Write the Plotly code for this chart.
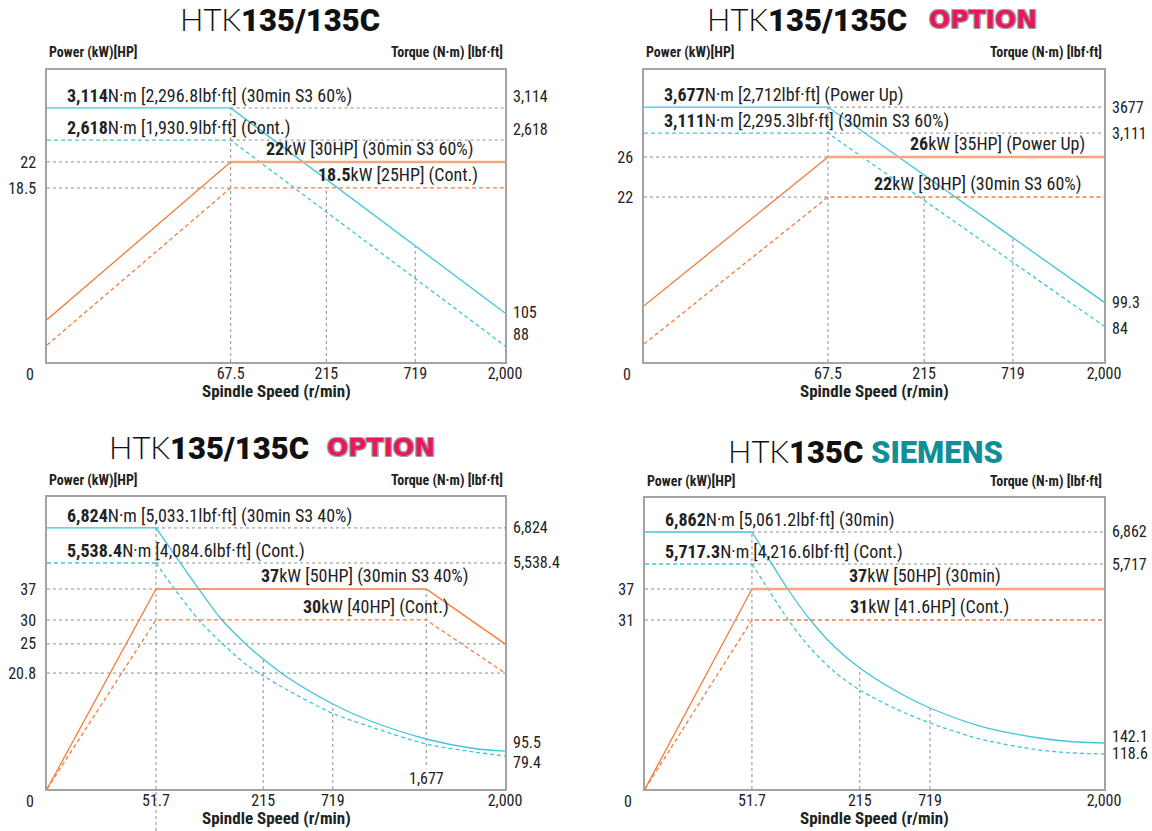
import numpy as np
import plotly.graph_objects as go

# ============================ DATA ============================
# Panel 1 : HTK135/135C
p1_speed_ticks = [0, 67.5, 215, 719, 2000]
p1_speed_labels = ["0", "67.5", "215", "719", "2,000"]
p1_power_ticks = [0, 18.5, 22]
p1_power_labels = ["0", "18.5", "22"]
p1_torque_ticks = [88, 105, 2618, 3114]
p1_torque_labels = ["88", "105", "2,618", "3,114"]
p1_torque_s3_speed = [0, 67.5, 2000]
p1_torque_s3 = [3114, 3114, 105]
p1_torque_cont_speed = [0, 67.5, 2000]
p1_torque_cont = [2618, 2618, 88]
p1_power_s3_speed = [0, 67.5, 2000]
p1_power_s3 = [4.5, 22, 22]
p1_power_cont_speed = [0, 67.5, 2000]
p1_power_cont = [1.8, 18.5, 18.5]
p1_torque_notes = ["<b>3,114</b>N·m [2,296.8lbf·ft] (30min S3 60%)",
                   "<b>2,618</b>N·m [1,930.9lbf·ft] (Cont.)"]
p1_power_notes = ["<b>22</b>kW [30HP] (30min S3 60%)",
                  "<b>18.5</b>kW [25HP] (Cont.)"]

# Panel 2 : HTK135/135C OPTION
p2_speed_ticks = [0, 67.5, 215, 719, 2000]
p2_speed_labels = ["0", "67.5", "215", "719", "2,000"]
p2_power_ticks = [0, 22, 26]
p2_power_labels = ["0", "22", "26"]
p2_torque_ticks = [84, 99.3, 3111, 3677]
p2_torque_labels = ["84", "99.3", "3,111", "3677"]
p2_torque_s3_speed = [0, 67.5, 2000]
p2_torque_s3 = [3677, 3677, 99.3]
p2_torque_cont_speed = [0, 67.5, 2000]
p2_torque_cont = [3111, 3111, 84]
p2_power_s3_speed = [0, 67.5, 2000]
p2_power_s3 = [7.5, 26, 26]
p2_power_cont_speed = [0, 67.5, 2000]
p2_power_cont = [2.4, 22, 22]
p2_torque_notes = ["<b>3,677</b>N·m [2,712lbf·ft] (Power Up)",
                   "<b>3,111</b>N·m [2,295.3lbf·ft] (30min S3 60%)"]
p2_power_notes = ["<b>26</b>kW [35HP] (Power Up)",
                  "<b>22</b>kW [30HP] (30min S3 60%)"]

# Panel 3 : HTK135/135C OPTION (high torque)
p3_speed_ticks = [0, 51.7, 215, 719, 1677, 2000]
p3_speed_labels = ["0", "51.7", "215", "719", "1,677", "2,000"]
p3_power_ticks = [0, 20.8, 25, 30, 37]
p3_power_labels = ["0", "20.8", "25", "30", "37"]
p3_torque_ticks = [79.4, 95.5, 5538.4, 6824]
p3_torque_labels = ["79.4", "95.5", "5,538.4", "6,824"]
p3_torque_s3_speed = [0, 51.7, 81, 119, 151, 190, 215, 387, 719, 1080, 1677, 1873, 2000]
p3_torque_s3 = [6824, 6824, 5813, 4728, 3917, 3165, 2760, 2239, 1457, 994, 444, 169, 95.5]
p3_torque_cont_speed = [0, 51.7, 81, 119, 151, 190, 215, 387, 719, 1080, 1677, 1873, 2000]
p3_torque_cont = [5538.4, 5538.4, 4757, 3845, 3237, 2586, 2276, 1868, 1185, 821, 299, 92.4, 79.4]
p3_power_s3_speed = [0, 51.7, 1677, 2000]
p3_power_s3 = [0, 37, 37, 25]
p3_power_cont_speed = [0, 51.7, 1677, 2000]
p3_power_cont = [0, 30, 30, 20.8]
p3_torque_notes = ["<b>6,824</b>N·m [5,033.1lbf·ft] (30min S3 40%)",
                   "<b>5,538.4</b>N·m [4,084.6lbf·ft] (Cont.)"]
p3_power_notes = ["<b>37</b>kW [50HP] (30min S3 40%)",
                  "<b>30</b>kW [40HP] (Cont.)"]

# Panel 4 : HTK135C SIEMENS
p4_speed_ticks = [0, 51.7, 215, 719, 2000]
p4_speed_labels = ["0", "51.7", "215", "719", "2,000"]
p4_power_ticks = [0, 31, 37]
p4_power_labels = ["0", "31", "37"]
p4_torque_ticks = [118.6, 142.1, 5717.3, 6862]
p4_torque_labels = ["118.6", "142.1", "5,717", "6,862"]
p4_torque_s3_speed = [0, 51.7, 79, 109, 140, 177, 215, 475, 719, 1087, 1499, 1750, 2000]
p4_torque_s3 = [6862, 6862, 5825, 4845, 3973, 3132, 2478, 1762, 1232, 671, 313, 188, 142.1]
p4_torque_cont_speed = [0, 51.7, 79, 109, 140, 177, 215, 475, 719, 1087, 1499, 1750, 2000]
p4_torque_cont = [5717.3, 5717.3, 4845, 3911, 3101, 2354, 1793, 1201, 765, 266, 128.2, 121.1, 118.6]
p4_power_s3_speed = [0, 51.7, 2000]
p4_power_s3 = [0, 37, 37]
p4_power_cont_speed = [0, 51.7, 2000]
p4_power_cont = [0, 31, 31]
p4_torque_notes = ["<b>6,862</b>N·m [5,061.2lbf·ft] (30min)",
                   "<b>5,717.3</b>N·m [4,216.6lbf·ft] (Cont.)"]
p4_power_notes = ["<b>37</b>kW [50HP] (30min)",
                  "<b>31</b>kW [41.6HP] (Cont.)"]

# ============================ LAYOUT / SCALES ============================
W, H = 1152, 831
CYAN = "#3fc5da"
ORANGE = "#f47b3b"
SALMON = "#f6a57c"
GUIDE = "#8e8e8e"
BOX = "#a3a3a3"
TXT = "#222222"
FONT = "Roboto Condensed, Liberation Sans Narrow, DejaVu Sans Condensed, Roboto, sans-serif"
LIGHT = "font-family:Lato, Roboto, sans-serif;font-weight:300"
HEAVY = "font-family:Roboto, Arial, sans-serif;font-weight:900"

title_main = f'<span style="{LIGHT}">HTK</span><span style="{HEAVY}">135/135C</span>'
title_siemens = (f'<span style="{LIGHT}">HTK</span><span style="{HEAVY}">135C</span> '
                 f'<span style="{HEAVY};color:#108f96">SIEMENS</span>')
OUTLINE = ("1px 1px 0 #a0a0a0, -1px -1px 0 #a0a0a0, 1px -1px 0 #a0a0a0, -1px 1px 0 #a0a0a0, "
           "0 1px 0 #a0a0a0, 0 -1px 0 #a0a0a0, 1px 0 0 #a0a0a0, -1px 0 0 #a0a0a0")

panels = [
    dict(box=(47, 70, 505, 362), speed=p1_speed_ticks, speed_lab=p1_speed_labels,
         speed_pos=[0, 0.401, 0.610, 0.804, 1.0],
         power=p1_power_ticks, power_lab=p1_power_labels, power_pos=[0, 0.596, 0.685],
         torque=p1_torque_ticks, torque_lab=p1_torque_labels,
         torque_pos=[0.055, 0.168, 0.760, 0.870], torque_lab_shift=[11, 0, 11, 11],
         ts_x=p1_torque_s3_speed, ts=p1_torque_s3, tc_x=p1_torque_cont_speed, tc=p1_torque_cont,
         ps_x=p1_power_s3_speed, ps=p1_power_s3, pc_x=p1_power_cont_speed, pc=p1_power_cont,
         tnotes=p1_torque_notes, pnotes=p1_power_notes, pnote_x=[0.934, 0.945],
         curved=False, thick_flat=True, v_to_power=[215], inside=[], end_guides=False,
         extend_corner=False, title=title_main, option=False, title_shift=4, title_y=50),
    dict(box=(644, 70, 1104, 362), speed=p2_speed_ticks, speed_lab=p2_speed_labels,
         speed_pos=[0, 0.400, 0.609, 0.802, 1.0],
         power=p2_power_ticks, power_lab=p2_power_labels, power_pos=[0, 0.565, 0.702],
         torque=p2_torque_ticks, torque_lab=p2_torque_labels,
         torque_pos=[0.123, 0.205, 0.784, 0.873], torque_lab_shift=[-2, 0, 0, 0],
         ts_x=p2_torque_s3_speed, ts=p2_torque_s3, tc_x=p2_torque_cont_speed, tc=p2_torque_cont,
         ps_x=p2_power_s3_speed, ps=p2_power_s3, pc_x=p2_power_cont_speed, pc=p2_power_cont,
         tnotes=p2_torque_notes, pnotes=p2_power_notes, pnote_x=[0.963, 0.954],
         curved=False, thick_flat=True, v_to_power=[215], inside=[], end_guides=False,
         extend_corner=False, title=title_main, option=True, title_shift=35, title_y=50,
         opt_gap=18),
    dict(box=(47, 497, 505, 789), speed=p3_speed_ticks, speed_lab=p3_speed_labels,
         speed_pos=[0, 0.238, 0.472, 0.624, 0.828, 1.0],
         power=p3_power_ticks, power_lab=p3_power_labels,
         power_pos=[0, 0.397, 0.497, 0.579, 0.685],
         torque=p3_torque_ticks, torque_lab=p3_torque_labels,
         torque_pos=[0.113, 0.130, 0.774, 0.894], torque_lab_shift=[-6, 9, 0, 0],
         ts_x=p3_torque_s3_speed, ts=p3_torque_s3, tc_x=p3_torque_cont_speed, tc=p3_torque_cont,
         ps_x=p3_power_s3_speed, ps=p3_power_s3, pc_x=p3_power_cont_speed, pc=p3_power_cont,
         tnotes=p3_torque_notes, pnotes=p3_power_notes, pnote_x=[0.924, 0.882],
         curved=True, thick_flat=False, v_to_power=[], inside=[1677], end_guides=True,
         extend_corner=True, title=title_main, option=True, title_shift=35, title_y=50,
         opt_gap=14),
    dict(box=(645, 498, 1104, 789), speed=p4_speed_ticks, speed_lab=p4_speed_labels,
         speed_pos=[0, 0.233, 0.468, 0.621, 1.0],
         power=p4_power_ticks, power_lab=p4_power_labels, power_pos=[0, 0.5808, 0.6873],
         torque=p4_torque_ticks, torque_lab=p4_torque_labels,
         torque_pos=[0.1203, 0.1581, 0.7732, 0.8832], torque_lab_shift=[0, 6, 0, 0],
         ts_x=p4_torque_s3_speed, ts=p4_torque_s3, tc_x=p4_torque_cont_speed, tc=p4_torque_cont,
         ps_x=p4_power_s3_speed, ps=p4_power_s3, pc_x=p4_power_cont_speed, pc=p4_power_cont,
         tnotes=p4_torque_notes, pnotes=p4_power_notes, pnote_x=[0.780, 0.797],
         curved=True, thick_flat=True, v_to_power=[], inside=[], end_guides=False,
         extend_corner=False, title=title_siemens, option=False, title_shift=-9, title_y=47),
]

fig = go.Figure()
annotations, shapes = [], []

for i, P in enumerate(panels, start=1):
    sfx = "" if i == 1 else str(i)
    xr, yr = "x" + sfx, "y" + sfx
    bx0, by0, bx1, by1 = P["box"]

    SX = lambda v, P=P: np.interp(np.asarray(v, float), P["speed"], P["speed_pos"])
    SP = lambda v, P=P: np.interp(np.asarray(v, float), P["power"], P["power_pos"])
    ST = lambda v, P=P: np.interp(np.asarray(v, float), P["torque"], P["torque_pos"])

    def line(x, y, color, width, dash="solid", shape="linear", xr=xr, yr=yr):
        fig.add_trace(go.Scatter(x=list(np.atleast_1d(x)), y=list(np.atleast_1d(y)), mode="lines",
                                 line=dict(color=color, width=width, dash=dash, shape=shape,
                                           smoothing=0.8),
                                 xaxis=xr, yaxis=yr, hoverinfo="skip", showlegend=False))

    # ---------- guide lines (dotted) ----------
    corner = P["ts_x"][1]
    xc = float(SX(corner))
    for T in (P["ts"][0], P["tc"][0]):
        line([xc, 1], [float(ST(T))] * 2, GUIDE, 1, "dot")
    for Pw in (P["ps"][1], P["pc"][1]):
        line([0, xc], [float(SP(Pw))] * 2, GUIDE, 1, "dot")
    if P["end_guides"]:
        for Pw in (P["ps"][-1], P["pc"][-1]):
            line([0, 1], [float(SP(Pw))] * 2, GUIDE, 1, "dot")
    line([xc, xc], [0, float(ST(P["ts"][0]))], GUIDE, 1, "dot")
    ts_dx, ts_dy = SX(P["ts_x"]), ST(P["ts"])
    for s in P["speed"][1:-1]:
        if s == corner:
            continue
        if s in P["inside"]:
            top = float(SP(np.interp(s, P["ps_x"], P["ps"])))
        elif s in P["v_to_power"]:
            top = float(SP(np.interp(s, P["pc_x"], P["pc"])))
        else:
            top = float(np.interp(SX(s), ts_dx, ts_dy))
        line([float(SX(s))] * 2, [0, top], GUIDE, 1, "dot")
    if P["extend_corner"]:
        shapes.append(dict(type="line", xref=xr, yref="paper", x0=xc, x1=xc,
                           y0=0, y1=1 - by1 / H, line=dict(color=GUIDE, width=1, dash="dot")))

    # ---------- torque curves ----------
    for sx_, tv, dash in ((P["tc_x"], P["tc"], "4px,3px"), (P["ts_x"], P["ts"], "solid")):
        dx, dy = SX(sx_), ST(tv)
        if P["curved"]:
            line(dx[:2], dy[:2], CYAN, 1.3, dash)
            line(dx[1:], dy[1:], CYAN, 1.3, dash, "spline")
        else:
            line(dx, dy, CYAN, 1.3, dash)

    # ---------- power curves ----------
    line(SX(P["pc_x"]), SP(P["pc"]), ORANGE, 1.3, "4px,3px")
    dx, dy = SX(P["ps_x"]), SP(P["ps"])
    line(dx[:2], dy[:2], ORANGE, 1.3)
    if P["thick_flat"]:
        line(dx[1:], dy[1:], SALMON, 2.6)
    else:
        line(dx[1:], dy[1:], ORANGE, 1.5)

    # ---------- axes ----------
    xticks = [s for s in P["speed"][1:] if s not in P["inside"]]
    xlabs = [P["speed_lab"][P["speed"].index(s)] for s in xticks]
    fig.update_layout(**{
        "xaxis" + sfx: dict(domain=[bx0 / W, bx1 / W], range=[0, 1], anchor=yr,
                            showline=True, mirror=True, linecolor=BOX, linewidth=1.5,
                            showgrid=False, zeroline=False, ticks="",
                            tickvals=list(SX(xticks)), ticktext=xlabs,
                            tickfont=dict(family=FONT, size=16, color=TXT),
                            ticklabelstandoff=-4, fixedrange=True, automargin=False),
        "yaxis" + sfx: dict(domain=[1 - by1 / H, 1 - by0 / H], range=[0, 1], anchor=xr,
                            showline=True, mirror=True, linecolor=BOX, linewidth=1.5,
                            showgrid=False, zeroline=False, ticks="",
                            tickvals=list(SP(P["power"][1:])), ticktext=P["power_lab"][1:],
                            tickfont=dict(family=FONT, size=16, color=TXT),
                            ticklabelstandoff=6, fixedrange=True, automargin=False),
    })

    xd, yd = xr + " domain", yr + " domain"
    # torque labels on the right
    for v, lab, sh in zip(P["torque"], P["torque_lab"], P["torque_lab_shift"]):
        annotations.append(dict(text=lab, xref=xd, yref=yr, x=1, y=float(ST(v)), xanchor="left",
                                yanchor="middle", xshift=6, yshift=sh, showarrow=False,
                                font=dict(family=FONT, size=16, color=TXT)))
    # inside speed labels (e.g. 1,677)
    for s in P["inside"]:
        annotations.append(dict(text=P["speed_lab"][P["speed"].index(s)], xref=xr, yref=yd,
                                x=float(SX(s)), y=0, yanchor="middle", yshift=11, showarrow=False,
                                bgcolor="white", borderpad=0,
                                font=dict(family=FONT, size=16, color=TXT)))
    # origin "0"
    annotations.append(dict(text=P["speed_lab"][0], xref=xd, yref=yd, x=0, y=0, xanchor="center",
                            yanchor="middle", xshift=-17, yshift=-12, showarrow=False,
                            font=dict(family=FONT, size=16, color=TXT)))
    # axis titles
    annotations.append(dict(text="<b>Power (kW)[HP]</b>", xref=xd, yref=yd, x=0, y=1,
                            xanchor="left", yanchor="middle", yshift=17, showarrow=False,
                            font=dict(family=FONT, size=14, color=TXT)))
    annotations.append(dict(text="<b>Torque (N·m) [lbf·ft]</b>", xref=xd, yref=yd, x=1, y=1,
                            xanchor="right", yanchor="middle", yshift=17, showarrow=False,
                            font=dict(family=FONT, size=14, color=TXT)))
    annotations.append(dict(text="<b>Spindle Speed (r/min)</b>", xref=xd, yref=yd, x=0.5, y=0,
                            xanchor="center", yanchor="middle", yshift=-29, showarrow=False,
                            font=dict(family=FONT, size=17, color=TXT)))
    # value notes
    for note, T in zip(P["tnotes"], (P["ts"][0], P["tc"][0])):
        annotations.append(dict(text=note, xref=xd, yref=yr, x=0, y=float(ST(T)), xanchor="left",
                                yanchor="middle", xshift=18, yshift=12, showarrow=False,
                                font=dict(family=FONT, size=18, color=TXT)))
    for note, Pw, nx in zip(P["pnotes"], (P["ps"][1], P["pc"][1]), P["pnote_x"]):
        annotations.append(dict(text=note, xref=xd, yref=yr, x=nx, y=float(SP(Pw)), xanchor="right",
                                yanchor="middle", yshift=13, showarrow=False,
                                font=dict(family=FONT, size=18, color=TXT)))
    # title
    annotations.append(dict(text=P["title"], xref=xd, yref=yd, x=0.5, y=1,
                            xanchor="right" if P["option"] else "center",
                            yanchor="middle", xshift=P["title_shift"], yshift=P["title_y"],
                            showarrow=False,
                            font=dict(family="Roboto, sans-serif", size=31, color="#111111")))
    if P["option"]:
        annotations.append(dict(text="OPTION", xref=xd, yref=yd, x=0.5, y=1, xanchor="left",
                                yanchor="middle", xshift=P["title_shift"] + P["opt_gap"],
                                yshift=P["title_y"], showarrow=False,
                                font=dict(family="DejaVu Sans, sans-serif", size=25, color="#e8175d",
                                          weight="bold", shadow=OUTLINE)))

fig.update_layout(width=W, height=H, autosize=False, margin=dict(l=0, r=0, t=0, b=0, pad=0),
                  paper_bgcolor="white", plot_bgcolor="white",
                  annotations=annotations, shapes=shapes, showlegend=False)
fig.write_html("out.html", config={"displayModeBar": False},
               post_script="document.body.style.margin='0';document.body.style.overflow='hidden';")
